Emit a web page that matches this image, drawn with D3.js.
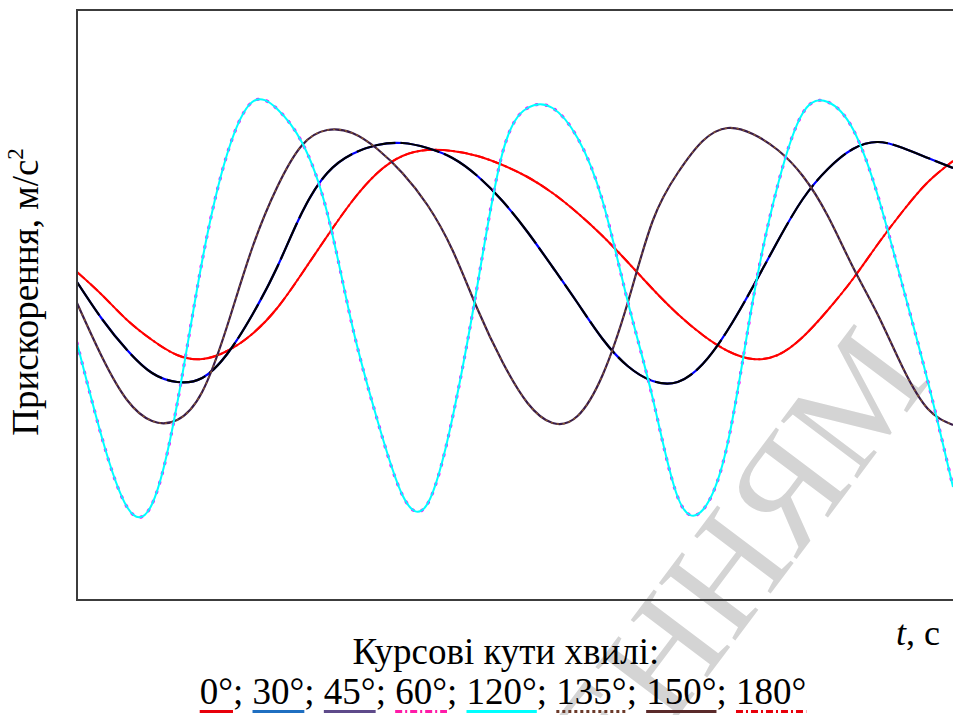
<!DOCTYPE html>
<html>
<head>
<meta charset="utf-8">
<script src="https://cdn.jsdelivr.net/npm/d3@7"></script>
<style>
  body { margin: 0; background: #fff; }
  svg { display: block; }
</style>
</head>
<body>
<div id="wrapper"></div>
<script>
// time samples, s
const times = [0, 1, 2, 3, 4, 5, 6, 7, 8, 9, 10, 11, 12, 13, 14, 15, 16, 17,
  18, 19, 20, 21, 22, 23, 24, 25, 26, 27, 28, 29, 30, 31, 32, 33, 34, 35]

// accelerations (pairs of headings coincide)
const accel0 = [0.33, 0.10, -0.15, -0.35, -0.50, -0.54, -0.46, -0.29, -0.03, 0.32,
  0.69, 1.04, 1.32, 1.49, 1.55, 1.54, 1.49, 1.40, 1.28, 1.12, 0.92, 0.69, 0.43,
  0.16, -0.09, -0.30, -0.46, -0.54, -0.50, -0.32, -0.05, 0.26, 0.61, 0.94, 1.23, 1.44]
const accel30 = [0.23, -0.14, -0.45, -0.68, -0.77, -0.73, -0.49, -0.10, 0.38, 0.93,
  1.32, 1.51, 1.60, 1.62, 1.57, 1.47, 1.29, 1.04, 0.73, 0.38, 0.02, -0.34, -0.61,
  -0.76, -0.77, -0.59, -0.25, 0.18, 0.64, 1.06, 1.36, 1.56, 1.63, 1.57, 1.47, 1.37]
const accel45 = [0.02, -0.52, -0.95, -1.16, -1.15, -0.87, -0.21, 0.57, 1.18, 1.60,
  1.75, 1.72, 1.56, 1.32, 1.00, 0.55, -0.04, -0.57, -0.98, -1.18, -1.11, -0.70, 0.02,
  0.84, 1.32, 1.64, 1.77, 1.71, 1.55, 1.29, 0.89, 0.38, -0.10, -0.63, -1.04, -1.20]
const accel60 = [-0.38, -1.33, -2.02, -1.99, -0.99, 0.44, 1.51, 2.03, 1.96, 1.62,
  0.92, -0.21, -1.15, -1.90, -1.99, -1.13, 0.20, 1.52, 1.97, 1.97, 1.67, 1.04, 0.04,
  -0.93, -1.92, -2.05, -1.38, 0.04, 1.20, 1.92, 2.03, 1.76, 1.09, 0.18, -0.77, -1.82]
const accel120 = accel60
const accel135 = accel45
const accel150 = accel30
const accel180 = accel0

const headings = ["0°", "30°", "45°", "60°", "120°", "135°", "150°", "180°"]

// drawing order: lower pair member first, its twin on top
const series = [
  { name: "0°", values: accel0, color: "#ff0000", width: 2, dash: null },
  { name: "180°", values: accel180, color: "#ff0000", width: 2, dash: "10 3 2 3" },
  { name: "30°", values: accel30, color: "#0000ff", width: 2.2, dash: null },
  { name: "150°", values: accel150, color: "#000000", width: 2.2, dash: "40 5" },
  { name: "45°", values: accel45, color: "#3a1c48", width: 2.2, dash: null },
  { name: "135°", values: accel135, color: "#8b5a2b", width: 1.4, dash: "1 5" },
  { name: "60°", values: accel60, color: "#ff00ff", width: 3.2, dash: "1 9" },
  { name: "120°", values: accel120, color: "#00ffff", width: 2, dash: null },
]

const legendStyles = {
  "0°": { color: "#e8000b", dash: null },
  "30°": { color: "#1f6fc1", dash: null },
  "45°": { color: "#5e4a8a", dash: null },
  "60°": { color: "#ff1aa8", dash: "7 3 2 3" },
  "120°": { color: "#00ffff", dash: null },
  "135°": { color: "#6b3a2a", dash: "3 3" },
  "150°": { color: "#5a2a2a", dash: null },
  "180°": { color: "#e8000b", dash: "7 3 2 3" },
}

function drawChart() {
  const dimensions = {
    width: 953,
    height: 715,
    margins: { top: 10, right: 0, bottom: 115, left: 77 },
  }
  dimensions.boundedWidth =
    dimensions.width - dimensions.margins.left - dimensions.margins.right
  dimensions.boundedHeight =
    dimensions.height - dimensions.margins.top - dimensions.margins.bottom

  const font = "'Liberation Serif', 'Times New Roman', serif"

  const wrapper = d3.select("#wrapper")
    .append("svg")
    .attr("width", dimensions.width)
    .attr("height", dimensions.height)

  // watermark, behind everything
  wrapper.append("text")
    .text("ОЗНАЙОМЛЕННЯМ")
    .attr("transform", "translate(933,378) rotate(-53)")
    .attr("text-anchor", "end")
    .style("font-family", font)
    .style("font-size", "146px")
    .style("fill", "#d4d4d4")

  const bounds = wrapper.append("g")
    .attr("transform", `translate(${dimensions.margins.left},${dimensions.margins.top})`)

  const xScale = d3.scaleLinear()
    .domain([0, 35])
    .range([0, dimensions.boundedWidth])

  const yScale = d3.scaleLinear()
    .domain([-2.95, 2.95])
    .range([dimensions.boundedHeight, 0])

  bounds.append("clipPath")
    .attr("id", "plot-clip")
    .append("rect")
    .attr("width", dimensions.boundedWidth)
    .attr("height", dimensions.boundedHeight)

  const lineGenerator = d3.line()
    .x((d, i) => xScale(times[i]))
    .y((d) => yScale(d))
    .curve(d3.curveNatural)

  bounds.append("g")
    .attr("clip-path", "url(#plot-clip)")
    .selectAll("path")
    .data(series)
    .join("path")
    .attr("d", (d) => lineGenerator(d.values))
    .attr("fill", "none")
    .attr("stroke", (d) => d.color)
    .attr("stroke-width", (d) => d.width)
    .attr("stroke-dasharray", (d) => d.dash)
    .attr("stroke-linecap", (d) => (d.dash && d.dash.startsWith("1 ") ? "round" : "butt"))

  // frame: left, top and bottom edges
  const frame = bounds.append("g")
    .attr("stroke", "#3c3c3c")
    .attr("stroke-width", 2)
  frame.append("line")
    .attr("x1", 0).attr("x2", 0)
    .attr("y1", 0).attr("y2", dimensions.boundedHeight)
  frame.append("line")
    .attr("x1", -1).attr("x2", dimensions.boundedWidth)
    .attr("y1", 0).attr("y2", 0)
  frame.append("line")
    .attr("x1", -1).attr("x2", dimensions.boundedWidth)
    .attr("y1", dimensions.boundedHeight).attr("y2", dimensions.boundedHeight)

  // y axis label
  const yLabel = wrapper.append("text")
    .attr("transform", "translate(38,292) rotate(-90)")
    .attr("text-anchor", "middle")
    .style("font-family", font)
    .style("font-size", "37px")
    .style("fill", "#000")
  yLabel.append("tspan").text("Прискорення, м/с")
  yLabel.append("tspan").text("2")
    .attr("dy", -15)
    .style("font-size", "23px")

  // x axis label
  const xLabel = wrapper.append("text")
    .attr("x", 940)
    .attr("y", 645)
    .attr("text-anchor", "end")
    .style("font-family", font)
    .style("font-size", "36px")
    .style("fill", "#000")
  xLabel.append("tspan").text("t").style("font-style", "italic")
  xLabel.append("tspan").text(", с")

  // legend
  wrapper.append("text")
    .text("Курсові кути хвилі:")
    .attr("x", 506)
    .attr("y", 664)
    .attr("text-anchor", "middle")
    .style("font-family", font)
    .style("font-size", "37px")
    .style("fill", "#000")

  const legendString = headings.join("; ")
  const legendText = wrapper.append("text")
    .text(legendString)
    .attr("x", 503)
    .attr("y", 704)
    .attr("text-anchor", "middle")
    .style("font-family", font)
    .style("font-size", "37px")
    .style("fill", "#000")

  const node = legendText.node()
  let index = 0
  headings.forEach((h) => {
    const start = node.getStartPositionOfChar(index).x
    const end = node.getEndPositionOfChar(index + h.length - 1).x
    const style = legendStyles[h]
    wrapper.append("line")
      .attr("x1", start)
      .attr("x2", end)
      .attr("y1", 711.5)
      .attr("y2", 711.5)
      .attr("stroke", style.color)
      .attr("stroke-width", 3)
      .attr("stroke-dasharray", style.dash)
    index += h.length + 2
  })
}

drawChart()
</script>
</body>
</html>
